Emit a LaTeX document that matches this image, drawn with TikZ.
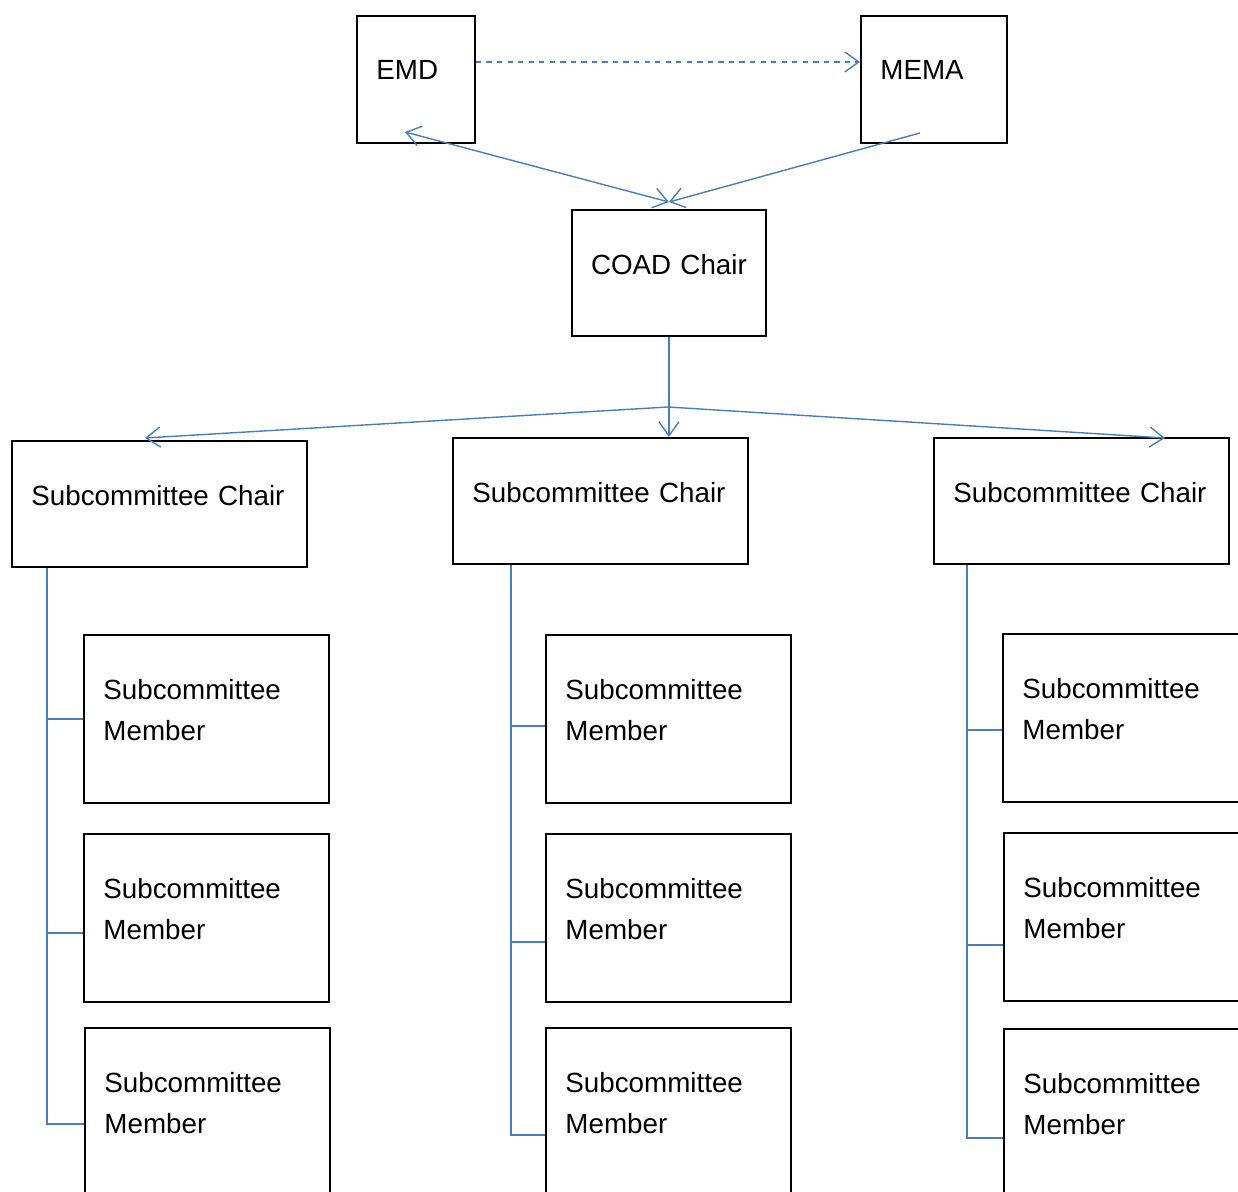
\documentclass[tikz,border=0pt]{standalone}
\usepackage{fontspec}
\setmainfont{Liberation Sans}
\usetikzlibrary{positioning,arrows.meta,calc}
\definecolor{linkblue}{RGB}{74,126,187}
\tikzset{>={Straight Barb[length=0.28cm,width=0.4cm]}}

\begin{document}
\begin{tikzpicture}[x=0.02cm, y=-0.02cm,
    box/.style={draw, line width=1.1pt, rectangle, anchor=north west, inner xsep=0.39cm,
      align=left, text depth=0.36cm, font=\fontsize{15.8}{23.3}\selectfont},
    chairbox/.style={box, text width=5.12cm, minimum height=2.52cm},
    memberbox/.style={box, text width=4.12cm, text depth=1.18cm, minimum height=3.36cm},
    link/.style={draw=linkblue, line width=0.8pt}]

      \useasboundingbox (0,0) rectangle (1238,1192);

      % top level
      \node[box, text width=1.58cm, minimum height=2.54cm] (emd) at (356,15) {EMD};
      \node[box, text width=2.14cm, minimum height=2.54cm] (mema) at (860,15) {MEMA};
      \node[box, inner xsep=0.15cm, text width=3.58cm, minimum height=2.52cm, align=center] (coad) at (571,209) {COAD Chair};

      % chairs
      \node[chairbox] (chairA) at (11,440) {Subcommittee Chair};
      \node[chairbox] (chairB) at (452,437) {Subcommittee Chair};
      \node[chairbox] (chairC) at (933,437) {Subcommittee Chair};

      % members
      \node[memberbox] (memA1) at (83,634) {Subcommittee\\Member};
      \node[memberbox] (memA2) at (83,833) {Subcommittee\\Member};
      \node[memberbox] (memA3) at (84,1027) {Subcommittee\\Member};
      \node[memberbox] (memB1) at (545,634) {Subcommittee\\Member};
      \node[memberbox] (memB2) at (545,833) {Subcommittee\\Member};
      \node[memberbox] (memB3) at (545,1027) {Subcommittee\\Member};
      \node[memberbox] (memC1) at (1002,633) {Subcommittee\\Member};
      \node[memberbox] (memC2) at (1003,832) {Subcommittee\\Member};
      \node[memberbox] (memC3) at (1003,1028) {Subcommittee\\Member};

      \coordinate (emdend) at (405,132);
      \coordinate (memaend) at (920,133);
      \coordinate (split) at (668,407);
      \coordinate (tipA) at (145,438);
      \coordinate (tipC) at (1165,438);
      \coordinate (trunkA) at ([xshift=0.72cm]chairA.south west);
      \coordinate (trunkB) at ([xshift=1.18cm]chairB.south west);
      \coordinate (trunkC) at ([xshift=0.68cm]chairC.south west);

      \draw[link, dashed, ->] ([yshift=0.35cm]emd.east) -- ([yshift=0.35cm]mema.west);
      \draw[link, <->] (emdend) -- ([yshift=0.14cm]coad.north);
      \draw[link, ->] (memaend) -- ([yshift=0.14cm]coad.north);
      \draw[link, ->] (coad.south) -- (coad.south |- chairB.north);
      \draw[link, ->] (split) -- (tipA);
      \draw[link, ->] (split) -- (tipC);

      % member lines
      \draw[link] (trunkA) |- ([yshift=-0.24cm]memA3.west);
      \draw[link] (memA1.west) -- (memA1.west -| trunkA);
      \draw[link] ([yshift=-0.3cm]memA2.west) -- ([yshift=-0.3cm]memA2.west -| trunkA);
      \draw[link] (trunkB) |- ([yshift=-0.46cm]memB3.west);
      \draw[link] ([yshift=-0.14cm]memB1.west) -- ([yshift=-0.14cm]memB1.west -| trunkB);
      \draw[link] ([yshift=-0.48cm]memB2.west) -- ([yshift=-0.48cm]memB2.west -| trunkB);
      \draw[link] (trunkC) |- ([yshift=-0.5cm]memC3.west);
      \draw[link] ([yshift=-0.24cm]memC1.west) -- ([yshift=-0.24cm]memC1.west -| trunkC);
      \draw[link] ([yshift=-0.56cm]memC2.west) -- ([yshift=-0.56cm]memC2.west -| trunkC);

\end{tikzpicture}
\end{document}
